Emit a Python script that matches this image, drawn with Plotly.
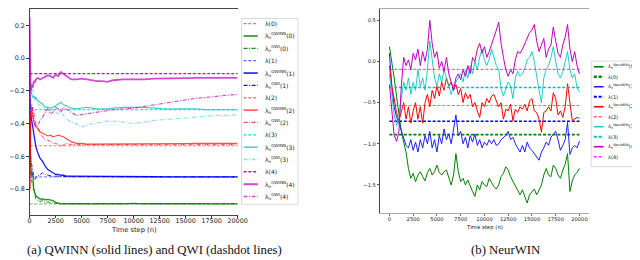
import plotly.graph_objects as go

# ---------------- data ----------------
arms = [0, 1, 2, 3, 4]
lam = [-0.89, -0.725, -0.535, -0.315, -0.095]

steps_a = [0, 50, 100, 200, 300, 400, 500, 600, 800, 1000,
           1250, 1500, 1750, 2000, 2250, 2500, 2750, 3000, 3250, 3500,
           3750, 4000, 4500, 5000, 5500, 6000, 6500, 7000, 7500, 8000,
           9000, 10000, 11000, 12000, 13000, 14000, 15000, 16000, 17000, 18000,
           19000, 20000]

qwinn0 = [-0.25, -0.5, -0.65, -0.72, -0.70, -0.80, -0.82, -0.84, -0.85, -0.86,
          -0.86, -0.865, -0.862, -0.865, -0.87, -0.88, -0.885, -0.89, -0.888, -0.89,
          -0.892, -0.89, -0.888, -0.89, -0.892, -0.89, -0.888, -0.89, -0.89, -0.888,
          -0.89, -0.887, -0.89, -0.888, -0.889, -0.89, -0.888, -0.89, -0.889, -0.89,
          -0.89, -0.89]
qwi0 = [-0.35, -0.6, -0.7, -0.75, -0.78, -0.82, -0.85, -0.86, -0.87, -0.875,
        -0.87, -0.88, -0.878, -0.882, -0.885, -0.886, -0.887, -0.888, -0.887, -0.888,
        -0.889, -0.888, -0.888, -0.889, -0.888, -0.889, -0.888, -0.888, -0.889, -0.888,
        -0.888, -0.888, -0.889, -0.888, -0.888, -0.888, -0.888, -0.889, -0.888, -0.888,
        -0.888, -0.888]
qwinn1 = [-0.18, -0.3, -0.35, -0.38, -0.42, -0.47, -0.51, -0.54, -0.58, -0.61,
          -0.63, -0.66, -0.68, -0.69, -0.70, -0.71, -0.71, -0.715, -0.715, -0.72,
          -0.72, -0.72, -0.722, -0.722, -0.723, -0.722, -0.723, -0.724, -0.723, -0.724,
          -0.724, -0.723, -0.724, -0.724, -0.725, -0.724, -0.725, -0.725, -0.725, -0.725,
          -0.725, -0.725]
qwi1 = [-0.3, -0.5, -0.6, -0.65, -0.70, -0.73, -0.74, -0.73, -0.72, -0.71,
        -0.70, -0.71, -0.715, -0.72, -0.722, -0.72, -0.722, -0.723, -0.722, -0.723,
        -0.724, -0.723, -0.724, -0.724, -0.724, -0.725, -0.724, -0.725, -0.725, -0.725,
        -0.725, -0.725, -0.725, -0.725, -0.725, -0.725, -0.725, -0.725, -0.725, -0.725,
        -0.725, -0.725]
qwinn2 = [-0.2, -0.8, -0.35, -0.30, -0.36, -0.39, -0.41, -0.42, -0.43, -0.45,
          -0.46, -0.47, -0.475, -0.47, -0.48, -0.475, -0.47, -0.475, -0.48, -0.49,
          -0.50, -0.51, -0.52, -0.52, -0.525, -0.525, -0.524, -0.525, -0.525, -0.524,
          -0.523, -0.522, -0.522, -0.521, -0.521, -0.522, -0.521, -0.52, -0.521, -0.52,
          -0.52, -0.52]
qwi2 = [-0.3, -0.6, -0.4, -0.32, -0.30, -0.34, -0.38, -0.40, -0.43, -0.46,
        -0.48, -0.50, -0.50, -0.51, -0.52, -0.52, -0.53, -0.535, -0.53, -0.52,
        -0.525, -0.527, -0.528, -0.528, -0.527, -0.528, -0.528, -0.528, -0.528, -0.528,
        -0.528, -0.528, -0.528, -0.528, -0.528, -0.528, -0.528, -0.528, -0.528, -0.528,
        -0.528, -0.528]
qwinn3 = [-0.15, -0.2, -0.18, -0.22, -0.24, -0.23, -0.25, -0.24, -0.26, -0.27,
          -0.28, -0.30, -0.30, -0.305, -0.30, -0.29, -0.28, -0.27, -0.285, -0.29,
          -0.30, -0.305, -0.31, -0.305, -0.30, -0.305, -0.31, -0.31, -0.31, -0.305,
          -0.30, -0.30, -0.30, -0.305, -0.31, -0.31, -0.31, -0.31, -0.315, -0.315,
          -0.315, -0.315]
qwi3 = [-0.1, -0.18, -0.2, -0.17, -0.19, -0.22, -0.24, -0.26, -0.28, -0.29,
        -0.30, -0.32, -0.33, -0.32, -0.31, -0.33, -0.34, -0.33, -0.35, -0.37,
        -0.38, -0.39, -0.40, -0.42, -0.41, -0.40, -0.395, -0.39, -0.385, -0.385,
        -0.39, -0.40, -0.39, -0.38, -0.375, -0.37, -0.365, -0.36, -0.355, -0.35,
        -0.35, -0.345]
qwinn4 = [0.25, -0.05, -0.2, -0.16, -0.18, -0.14, -0.15, -0.13, -0.12, -0.13,
          -0.12, -0.115, -0.105, -0.11, -0.12, -0.10, -0.11, -0.085, -0.095, -0.11,
          -0.115, -0.13, -0.13, -0.125, -0.13, -0.135, -0.14, -0.14, -0.145, -0.135,
          -0.13, -0.13, -0.13, -0.125, -0.125, -0.122, -0.122, -0.12, -0.12, -0.12,
          -0.12, -0.12]
qwi4 = [0.1, -0.2, -0.3, -0.28, -0.35, -0.38, -0.40, -0.42, -0.41, -0.38,
        -0.36, -0.33, -0.31, -0.34, -0.33, -0.30, -0.31, -0.33, -0.30, -0.31,
        -0.32, -0.33, -0.35, -0.345, -0.34, -0.335, -0.33, -0.325, -0.32, -0.315,
        -0.31, -0.305, -0.295, -0.285, -0.275, -0.265, -0.255, -0.245, -0.24, -0.232,
        -0.226, -0.222]

steps_b = list(range(0, 20001, 250))

neur0 = [0.18, 0.0, -0.2, -0.42, -0.65, -0.85, -0.98, -1.1, -1.3, -1.42,
         -1.36, -1.46, -1.38, -1.34, -1.4, -1.45, -1.35, -1.3, -1.38, -1.34,
         -1.26, -1.35, -1.38, -1.34, -1.32, -1.42, -1.5, -1.38, -1.12, -1.34,
         -1.46, -1.42, -1.5, -1.44, -1.52, -1.58, -1.64, -1.5, -1.56, -1.46,
         -1.5, -1.52, -1.42, -1.48, -1.52, -1.55, -1.5, -1.4, -1.36, -1.28,
         -1.32, -1.4, -1.46, -1.52, -1.58, -1.62, -1.56, -1.65, -1.72, -1.62,
         -1.58, -1.55, -1.62, -1.55, -1.5, -1.38, -1.3, -1.38, -1.4, -1.26,
         -1.3, -1.38, -1.42, -1.32, -1.25, -1.12, -1.58, -1.45, -1.38, -1.35,
         -1.3]
neur1 = [0.1, -0.3, -0.55, -0.68, -0.75, -0.85, -0.95, -1.02, -1.05, -0.95,
         -1.08, -0.98, -1.1, -0.95, -1.05, -0.9, -1.0, -0.85, -1.05, -0.95,
         -1.1, -0.9, -1.0, -0.82, -0.95, -0.88, -1.0, -0.8, -0.65, -0.9,
         -0.85, -1.0, -0.92, -1.05, -0.9, -0.98, -0.88, -1.02, -0.95, -1.05,
         -0.98, -1.02, -0.95, -1.0, -0.95, -1.02, -1.0, -0.95, -0.92, -0.9,
         -0.85, -0.95, -0.92, -1.0, -1.05, -1.1, -1.02, -1.1, -0.98, -1.05,
         -1.08, -1.12, -1.15, -1.2, -1.1, -1.05, -0.98, -1.02, -0.92, -0.88,
         -0.85, -0.95, -1.08, -1.02, -0.95, -0.74, -1.13, -1.05, -1.02, -1.05,
         -0.97]
neur2 = [-0.05, -0.3, -0.45, -0.62, -0.72, -0.6, -0.5, -0.7, -0.55, -0.75,
         -0.6, -0.5, -0.7, -0.55, -0.75, -0.5, -0.4, -0.55, -0.35, -0.45,
         -0.3, -0.42, -0.25, -0.35, -0.2, -0.3, -0.25, -0.35, -0.28, -0.4,
         -0.33, -0.5, -0.38, -0.45, -0.4, -0.55, -0.5, -0.6, -0.68, -0.5,
         -0.55, -0.45, -0.5, -0.42, -0.4, -0.48, -0.55, -0.5, -0.7, -0.58,
         -0.6, -0.52, -0.72, -0.58, -0.62, -0.55, -0.58, -0.52, -0.6, -0.48,
         -0.45, -0.6, -0.62, -0.7, -0.86, -0.62, -0.6, -0.55, -0.6, -0.38,
         -0.45, -0.65, -0.6, -0.68, -0.55, -0.27, -0.5, -0.72, -0.7, -0.68,
         -0.69]
neur3 = [-0.15, -0.4, -0.65, -0.78, -0.7, -0.45, -0.25, -0.35, -0.2, -0.4,
         -0.25, -0.35, -0.1, -0.3, -0.2, -0.35, -0.1, 0.25, 0.05, -0.2,
         -0.3, -0.15, -0.25, -0.1, -0.2, -0.3, -0.4, -0.3, -0.25, -0.2,
         -0.15, -0.25, -0.1, -0.2, -0.05, -0.15, 0.0, -0.1, 0.05, 0.15,
         0.02, -0.05, 0.03, 0.15, 0.05, -0.05, -0.1, -0.33, -0.42, -0.33,
         -0.25, -0.3, -0.45, -0.2, -0.12, -0.18, -0.15, -0.08, 0.02, 0.05,
         0.12, 0.0, -0.2, -0.35, -0.5, -0.2, -0.1, -0.05, 0.05, 0.18,
         0.0, -0.15, -0.2, -0.12, 0.0, 0.12, -0.1, -0.2, -0.15, -0.32,
         -0.37]
neur4 = [-0.28, -0.6, -0.9, -0.97, -0.85, -0.3, 0.05, -0.05, 0.02, -0.1,
         0.1, 0.02, 0.15, -0.05, 0.12, 0.0, 0.15, 0.5, 0.22, 0.05,
         0.12, -0.08, 0.0, -0.12, 0.05, -0.15, -0.25, -0.35, -0.2, -0.15,
         -0.22, -0.1, -0.18, -0.05, -0.15, 0.05, 0.0, 0.15, 0.22, 0.1,
         0.18, 0.05, 0.12, 0.2, 0.3, 0.38, 0.48, 0.22, 0.05, -0.1,
         -0.18, -0.1, -0.15, 0.02, 0.12, 0.1, 0.15, 0.22, 0.3, 0.35,
         0.38, 0.45, 0.25, 0.12, 0.2, 0.28, 0.05, 0.15, 0.2, 0.42,
         0.25, 0.1, 0.05, 0.2, 0.3, 0.45, 0.15, 0.0, 0.12, -0.05,
         -0.15]

xticks = [0, 2500, 5000, 7500, 10000, 12500, 15000, 17500, 20000]
yticks_a = [-0.8, -0.6, -0.4, -0.2, 0.0, 0.2]
yticklabels_a = ["\u22120.8", "\u22120.6", "\u22120.4", "\u22120.2", "0.0", "0.2"]
yticks_b = [-1.5, -1.0, -0.5, 0.0, 0.5]
yticklabels_b = ["\u22121.5", "\u22121.0", "\u22120.5", "0.0", "0.5"]

caption_a = "(a) QWINN (solid lines) and QWI (dashdot lines)"
caption_b = "(b) NeurWIN"
xlabel = "Time step (n)"

for s in (qwinn0, qwi0, qwinn1, qwi1, qwinn2, qwi2, qwinn3, qwi3, qwinn4, qwi4):
    assert len(s) == len(steps_a), len(s)
for s in (neur0, neur1, neur2, neur3, neur4):
    assert len(s) == len(steps_b), len(s)

# ---------------- styles ----------------
W, H = 640, 260
def px(x): return x / W
def py(y): return 1 - y / H

DASH = "3px,1.8px"
DASHDOT = "4px,1.5px,1px,1.5px"

# left panel styles: (lambda, qwinn, qwi)
left_styles = [
    (("rgba(0,128,0,0.6)", 1.0), ("rgba(0,128,0,0.85)", 1.3), ("rgba(0,128,0,0.9)", 1.0)),
    (("rgba(0,0,255,0.6)", 1.0), ("rgba(0,0,255,0.9)", 1.3), ("rgba(0,0,255,0.9)", 1.0)),
    (("rgba(255,0,0,0.55)", 1.0), ("rgba(255,0,0,0.7)", 1.2), ("rgba(255,0,0,0.7)", 1.0)),
    (("rgba(0,200,210,0.85)", 1.0), ("rgba(0,191,191,0.75)", 1.2), ("rgba(0,191,191,0.45)", 1.2)),
    (("rgba(191,0,191,0.95)", 1.2), ("rgba(191,0,191,0.7)", 1.8), ("rgba(191,0,191,0.7)", 1.2)),
]
right_styles = [
    (("#008000", 1.0), ("#008000", 1.8)),
    (("#2020ff", 1.0), ("#0000ff", 1.5)),
    (("#ff0000", 1.0), ("rgba(255,0,0,0.6)", 1.0)),
    (("rgba(0,191,191,0.85)", 1.0), ("#00bfbf", 1.5)),
    (("#c000c0", 1.0), ("rgba(230,0,230,0.8)", 1.0)),
]

qwinn = [qwinn0, qwinn1, qwinn2, qwinn3, qwinn4]
qwi = [qwi0, qwi1, qwi2, qwi3, qwi4]
neur = [neur0, neur1, neur2, neur3, neur4]

fig = go.Figure()

# ---- left panel traces ----
for i in arms:
    (lc, lw), (sc, sw), (dc, dw) = left_styles[i]
    fig.add_trace(go.Scatter(x=[steps_a[0], steps_a[-1]], y=[lam[i], lam[i]], mode="lines",
                             line=dict(color=lc, width=lw, dash=DASH), xaxis="x", yaxis="y"))
    fig.add_trace(go.Scatter(x=steps_a, y=qwinn[i], mode="lines",
                             line=dict(color=sc, width=sw), xaxis="x", yaxis="y"))
    fig.add_trace(go.Scatter(x=steps_a, y=qwi[i], mode="lines",
                             line=dict(color=dc, width=dw, dash=DASHDOT), xaxis="x", yaxis="y"))

# ---- right panel traces ----
for i in arms:
    (sc, sw), (lc, lw) = right_styles[i]
    fig.add_trace(go.Scatter(x=steps_b, y=neur[i], mode="lines",
                             line=dict(color=sc, width=sw), xaxis="x2", yaxis="y2"))
    fig.add_trace(go.Scatter(x=[steps_b[0], steps_b[-1]], y=[lam[i], lam[i]], mode="lines",
                             line=dict(color=lc, width=lw, dash=DASH), xaxis="x2", yaxis="y2"))

shapes = []
annotations = []

# ---- left legend ----
shapes.append(dict(type="rect", xref="paper", yref="paper", x0=px(236), x1=px(293.5),
                   y0=py(196), y1=py(9.5), line=dict(color="#d0d0d0", width=0.8),
                   fillcolor="white", layer="above"))
labels_left = []
for i in arms:
    labels_left.append((f"\u03bb({i})", left_styles[i][0], DASH))
    labels_left.append((f"\u03bb<sub>n</sub><sup>QWINN</sup>({i})", left_styles[i][1], None))
    labels_left.append((f"\u03bb<sub>n</sub><sup>QWI</sup>({i})", left_styles[i][2], DASHDOT))
for k, (txt, (c, w), d) in enumerate(labels_left):
    yy = 14.7 + 12.4 * k
    ln = dict(color=c, width=w + 0.3)
    if d:
        ln["dash"] = d
    shapes.append(dict(type="line", xref="paper", yref="paper", x0=px(238), x1=px(252.5),
                       y0=py(yy), y1=py(yy), line=ln, layer="above"))
    annotations.append(dict(text=txt, xref="paper", yref="paper", x=px(257.5), y=py(yy),
                            xanchor="left", yanchor="middle", showarrow=False,
                            font=dict(family="DejaVu Sans", size=6, color="#222")))

# ---- right legend ----
shapes.append(dict(type="rect", xref="paper", yref="paper", x0=px(592.3), x1=px(660),
                   y0=py(158.3), y1=py(52.3), line=dict(color="#d0d0d0", width=0.8),
                   fillcolor="white", layer="above"))
labels_right = []
for i in arms:
    labels_right.append((f"\u03bb<sub>n</sub><sup>NeurWIN</sup>({i})", right_styles[i][0], None))
    labels_right.append((f"\u03bb({i})", right_styles[i][1], DASH))
for k, (txt, (c, w), d) in enumerate(labels_right):
    yy = 58.0 + 10.03 * k
    ln = dict(color=c, width=max(w, 1.0) + 0.6)
    if d:
        ln["dash"] = d
    shapes.append(dict(type="line", xref="paper", yref="paper", x0=px(595), x1=px(605),
                       y0=py(yy), y1=py(yy), line=ln, layer="above"))
    annotations.append(dict(text=txt, xref="paper", yref="paper", x=px(607.5), y=py(yy),
                            xanchor="left", yanchor="middle", showarrow=False,
                            font=dict(family="DejaVu Sans", size=5, color="#222")))

# ---- axis titles and captions ----
annotations.append(dict(text=xlabel, xref="paper", yref="paper", x=px(126), y=py(221.5),
                        xanchor="center", yanchor="middle", showarrow=False,
                        font=dict(family="DejaVu Sans", size=6.7, color="#222")))
annotations.append(dict(text=xlabel, xref="paper", yref="paper", x=px(484), y=py(219.5),
                        xanchor="center", yanchor="middle", showarrow=False,
                        font=dict(family="DejaVu Sans", size=5.4, color="#222")))
annotations.append(dict(text=caption_a, xref="paper", yref="paper", x=px(147), y=py(242),
                        xanchor="center", yanchor="middle", showarrow=False,
                        font=dict(family="Liberation Serif", size=12.8, color="#111")))
annotations.append(dict(text=caption_b, xref="paper", yref="paper", x=px(505), y=py(242),
                        xanchor="center", yanchor="middle", showarrow=False,
                        font=dict(family="Liberation Serif", size=12.8, color="#111")))

axis_font_a = dict(family="DejaVu Sans", size=6.4, color="#222")
axis_font_b = dict(family="DejaVu Sans", size=5.2, color="#222")

fig.update_layout(
    width=W, height=H, margin=dict(l=0, r=0, t=0, b=0),
    paper_bgcolor="white", plot_bgcolor="white", showlegend=False,
    shapes=shapes, annotations=annotations,
    xaxis=dict(domain=[px(20), px(232)], range=[0, 20000], tickvals=xticks,
               ticktext=[str(v) for v in xticks], ticks="outside", ticklen=2.5,
               tickwidth=0.8, tickcolor="#333", showline=True, linecolor="#444",
               linewidth=0.9, mirror=True, showgrid=False, zeroline=False,
               tickfont=axis_font_a, ticklabelstandoff=-3, anchor="y"),
    yaxis=dict(domain=[py(206.7), 1], range=[-0.957, 0.300], tickvals=yticks_a,
               ticktext=yticklabels_a, ticks="outside", ticklen=2.5, tickwidth=0.8,
               tickcolor="#333", showline=True, linecolor="#444", linewidth=0.9,
               showgrid=False, zeroline=False, tickfont=axis_font_a, anchor="x"),
    xaxis2=dict(domain=[px(377), px(590)], range=[-1000, 21000], tickvals=xticks,
                ticktext=[str(v) for v in xticks], ticks="outside", ticklen=2,
                tickwidth=0.7, tickcolor="#777", showline=True, linecolor="#aaa",
                linewidth=0.9, mirror=True, showgrid=False, zeroline=False,
                tickfont=axis_font_b, ticklabelstandoff=-1, anchor="y2"),
    yaxis2=dict(domain=[py(205), 1], range=[-1.844, 0.638], tickvals=yticks_b,
                ticktext=yticklabels_b, ticks="outside", ticklen=2, tickwidth=0.7,
                tickcolor="#555", showline=True, linecolor="#444", linewidth=1,
                showgrid=False, zeroline=False, tickfont=axis_font_b, anchor="x2"),
)

fig.write_html("out.html")
